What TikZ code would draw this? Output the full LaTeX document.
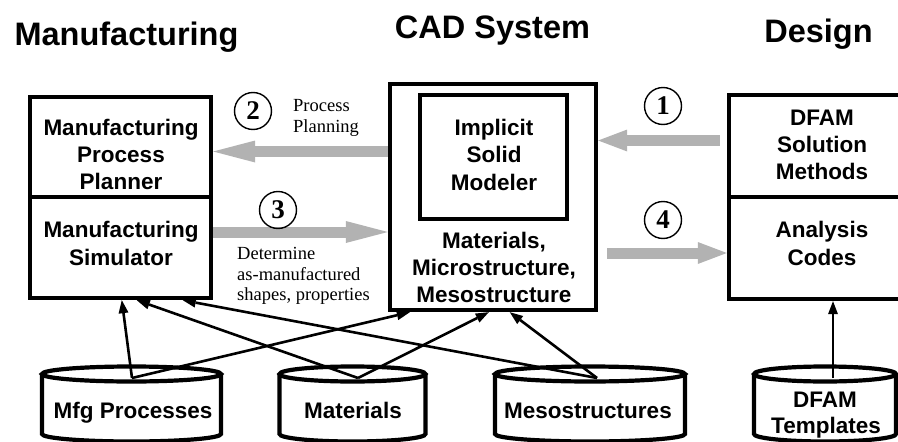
\documentclass[tikz,border=0pt]{standalone}
\usepackage{fontspec}
\setmainfont{Liberation Serif}
\setsansfont{Liberation Sans}
\usetikzlibrary{arrows.meta,calc}
\definecolor{agray}{RGB}{178,178,178}
\newcommand\mycyl[2]{%
  \draw[cyl] (#1-#2,374) -- (#1-#2,434) arc[start angle=180,end angle=360,x radius=#2pt,y radius=7.5pt] -- (#1+#2,374);
  \draw[cyl] (#1,374) ellipse[x radius=#2pt,y radius=7.5pt];}
\begin{document}
\begin{tikzpicture}[x=1pt,y=-1pt,
  box/.style={draw, line width=4.4pt, rectangle, inner sep=0pt},
  lbl/.style={font=\sffamily\bfseries\fontsize{22.5}{27}\selectfont, inner sep=0pt, anchor=base},
  ttl/.style={font=\sffamily\bfseries\fontsize{32.5}{39}\selectfont, inner sep=0pt, anchor=base},
  note/.style={font=\rmfamily\fontsize{18.5}{21}\selectfont, inner sep=0pt, anchor=base west},
  num/.style={draw, circle, line width=1.4pt, minimum size=37pt, inner sep=0pt, font=\rmfamily\bfseries\fontsize{27}{30}\selectfont},
  garrowL/.style={draw=agray, line width=11pt, -{Triangle[length=42pt,width=22pt,line width=0pt]}},
  garrowS/.style={draw=agray, line width=11pt, -{Triangle[length=29pt,width=22pt,line width=0pt]}},
  conn/.style={line width=2.6pt, -{Triangle[length=13pt,width=10pt,line width=0pt]}},
  cyl/.style={line width=4.2pt}
]
\useasboundingbox (0,0) rectangle (898,442);
\clip (0,0) rectangle (898,442);

% titles
\node[ttl] (tman) at (126.5,45) {Manufacturing};
\node[ttl] (tcad) at (492.5,38) {CAD System};
\node[ttl] (tdes) at (818.5,42) {Design};

% boxes
\node[box, minimum width=181pt, minimum height=100pt] (mpp) at (120.5,147) {};
\node[box, minimum width=181pt, minimum height=101pt] (sim) at (120.5,247.5) {};
\node[box, minimum width=206pt, minimum height=226pt] (cad) at (493,197) {};
\node[box, minimum width=147pt, minimum height=124pt] (ism) at (493.5,157) {};
\node[box, minimum width=186pt, minimum height=102pt] (dfam) at (822,146) {};
\node[box, minimum width=186pt, minimum height=102pt] (ana) at (822,248) {};

% gray arrows
\coordinate (y1) at (0,140.5);
\coordinate (y2) at (0,151.5);
\coordinate (y3) at (0,232);
\coordinate (y4) at (0,253);
\draw[garrowL] (cad.west |- y2) -- (mpp.east |- y2);
\draw[garrowL] (sim.east |- y3) -- (cad.west |- y3);
\draw[garrowS] ($(dfam.west |- y1)+(-7,0)$) -- (cad.east |- y1);
\draw[garrowS] ($(cad.east |- y4)+(9,0)$) -- (ana.west |- y4);

% numbered circles
\node[num] (n1) at (663,106) {1};
\node[num] (n2) at (253,111) {2};
\node[num] (n3) at (278,210) {3};
\node[num] (n4) at (663,220) {4};

% serif notes
\node[note] (pp1) at (293,111) {Process};
\node[note] (pp2) at (293,132) {Planning};
\node[note] (dt1) at (237,259) {Determine};
\node[note] (dt2) at (237,280) {as-manufactured};
\node[note] (dt3) at (237,300) {shapes, properties};

% box texts
\node[lbl] (a1) at (121,135) {Manufacturing};
\node[lbl] (a2) at (121,162) {Process};
\node[lbl] (a3) at (121,189) {Planner};
\node[lbl] (b1) at (121,237) {Manufacturing};
\node[lbl] (b2) at (121,265) {Simulator};
\node[lbl] (c1) at (494,135) {Implicit};
\node[lbl] (c2) at (494,162) {Solid};
\node[lbl] (c3) at (494,190) {Modeler};
\node[lbl] (d1) at (494,248) {Materials,};
\node[lbl] (d2) at (494,275) {Microstructure,};
\node[lbl] (d3) at (494,302) {Mesostructure};
\node[lbl] (e1) at (822,125) {DFAM};
\node[lbl] (e2) at (822,152) {Solution};
\node[lbl] (e3) at (822,179) {Methods};
\node[lbl] (f1) at (822,237) {Analysis};
\node[lbl] (f2) at (822,265) {Codes};

% cylinders
\mycyl{131.5}{89.5}
\mycyl{352.5}{73}
\mycyl{590}{95}
\mycyl{825}{71}
\node[lbl] (g1) at (133,418) {Mfg Processes};
\node[lbl] (g2) at (353,418) {Materials};
\node[lbl] (g3) at (588,418) {Mesostructures};
\node[lbl] (g4) at (825,407) {DFAM};
\node[lbl] (g5) at (826,433) {Templates};

% connectors
\coordinate (mfgT) at (132,378);
\coordinate (matT) at (358,378);
\coordinate (mesT) at (597,378);
\coordinate (dftT) at (833,378);
\draw[conn] (mfgT) -- ($(sim.south west)+(94,0)$);
\draw[conn] (mfgT) -- ($(cad.south west)+(22,0)$);
\draw[conn] (matT) -- ($(sim.south west)+(109,0)$);
\draw[conn] (matT) -- ($(cad.south west)+(101,0)$);
\draw[conn] (mesT) -- ($(sim.south west)+(155,0)$);
\draw[conn] (mesT) -- ($(cad.south west)+(122,0)$);
\draw[conn] (dftT) -- (dftT |- ana.south);
\end{tikzpicture}
\end{document}
